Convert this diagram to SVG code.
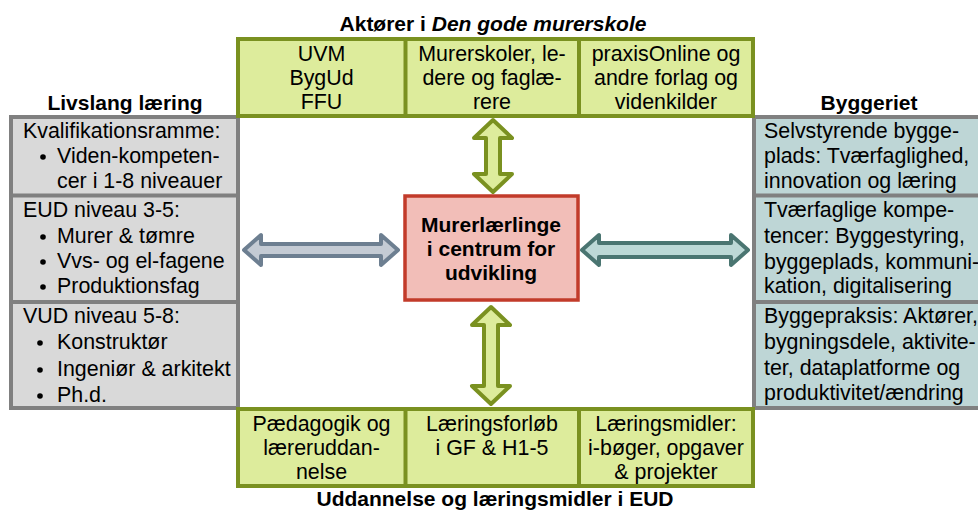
<svg xmlns="http://www.w3.org/2000/svg" width="978" height="511" viewBox="0 0 978 511">
  <style>
    text { font-family: "Liberation Sans", Arial, Helvetica, sans-serif; font-size: 21.4px; fill: #000; }
    .title { font-weight: bold; text-anchor: middle; font-size: 21px; }
    .c { text-anchor: middle; }
    .bold { font-weight: bold; font-size: 21px; }
    .green { fill: #DDEC9C; stroke: #7A9120; stroke-width: 4; }
    .gline { stroke: #7A9120; stroke-width: 4; fill: none; }
    .grey { fill: #D9D9D9; stroke: #808080; stroke-width: 4; }
    .teal { fill: #BED6D6; stroke: #808080; stroke-width: 4; }
    .pline { stroke: #808080; stroke-width: 4; fill: none; }
    .core { fill: #F2BEB8; stroke: #C23B2A; stroke-width: 3.5; }
    .dot { fill: #000; }
    .arr { stroke-width: 4; stroke-linejoin: round; }
    .arr-g { fill: #DDEC9C; stroke: #7A9120; }
    .arr-s { fill: #C4CBD4; stroke: #6D7F91; }
    .arr-t { fill: #BCD8D6; stroke: #4A7571; }
  </style>

  <!-- section headings -->
  <g id="headings">
    <text class="title" x="493" y="31">Aktører i <tspan font-style="italic">Den gode murerskole</tspan></text>
    <text class="title" x="125" y="110">Livslang læring</text>
    <text class="title" x="869" y="110">Byggeriet</text>
    <text class="title" x="495" y="506">Uddannelse og læringsmidler i EUD</text>
  </g>

  <!-- left column: lifelong learning -->
  <g id="lifelong">
    <rect class="grey" x="11" y="117" width="227" height="291"/>
    <line class="pline" x1="11" y1="195.5" x2="238" y2="195.5"/>
    <line class="pline" x1="11" y1="302" x2="238" y2="302"/>
    <g id="kvalifikation">
      <text x="23" y="138">Kvalifikationsramme:</text>
      <circle class="dot" cx="43" cy="157" r="2.8"/>
      <text x="57" y="163">Viden-kompeten-</text>
      <text x="57" y="188">cer i 1-8 niveauer</text>
    </g>
    <g id="eud">
      <text x="23" y="217">EUD niveau 3-5:</text>
      <circle class="dot" cx="43" cy="237" r="2.8"/>
      <text x="57" y="243">Murer &amp; tømre</text>
      <circle class="dot" cx="43" cy="262" r="2.8"/>
      <text x="57" y="268">Vvs- og el-fagene</text>
      <circle class="dot" cx="43" cy="287" r="2.8"/>
      <text x="57" y="293">Produktionsfag</text>
    </g>
    <g id="vud">
      <text x="23" y="323">VUD niveau 5-8:</text>
      <circle class="dot" cx="40" cy="343" r="2.8"/>
      <text x="57" y="349">Konstruktør</text>
      <circle class="dot" cx="40" cy="370" r="2.8"/>
      <text x="57" y="376">Ingeniør &amp; arkitekt</text>
      <circle class="dot" cx="40" cy="396" r="2.8"/>
      <text x="57" y="402">Ph.d.</text>
    </g>
  </g>

  <!-- right column: the construction sector -->
  <g id="byggeriet">
    <rect class="teal" x="754" y="117" width="232" height="291"/>
    <line class="pline" x1="754" y1="195.5" x2="986" y2="195.5"/>
    <line class="pline" x1="754" y1="302" x2="986" y2="302"/>
    <g id="selvstyrende">
      <text x="764" y="138">Selvstyrende bygge-</text>
      <text x="764" y="163">plads: Tværfaglighed,</text>
      <text x="764" y="188">innovation og læring</text>
    </g>
    <g id="tvaerfaglige">
      <text x="764" y="217">Tværfaglige kompe-</text>
      <text x="764" y="243">tencer: Byggestyring,</text>
      <text x="764" y="269">byggeplads, kommuni-</text>
      <text x="764" y="293">kation, digitalisering</text>
    </g>
    <g id="byggepraksis">
      <text x="764" y="323">Byggepraksis: Aktører,</text>
      <text x="764" y="349">bygningsdele, aktivite-</text>
      <text x="764" y="375">ter, dataplatforme og</text>
      <text x="764" y="400">produktivitet/ændring</text>
    </g>
  </g>

  <!-- top row: actors -->
  <g id="actors">
    <rect class="green" x="238" y="39" width="515" height="77"/>
    <line class="gline" x1="405.5" y1="39" x2="405.5" y2="116"/>
    <line class="gline" x1="579" y1="39" x2="579" y2="116"/>
    <g id="uvm">
      <text class="c" x="321.5" y="61">UVM</text>
      <text class="c" x="321.5" y="85">BygUd</text>
      <text class="c" x="321.5" y="109">FFU</text>
    </g>
    <g id="murerskoler">
      <text class="c" x="492" y="61">Murerskoler, le-</text>
      <text class="c" x="492" y="85">dere og faglæ-</text>
      <text class="c" x="492" y="109">rere</text>
    </g>
    <g id="praxis">
      <text class="c" x="666" y="61">praxisOnline og</text>
      <text class="c" x="666" y="85">andre forlag og</text>
      <text class="c" x="666" y="109">videnkilder</text>
    </g>
  </g>

  <!-- bottom row: education and learning materials -->
  <g id="education">
    <rect class="green" x="238" y="409" width="515" height="77"/>
    <line class="gline" x1="405.5" y1="409" x2="405.5" y2="486"/>
    <line class="gline" x1="579" y1="409" x2="579" y2="486"/>
    <g id="paedagogik">
      <text class="c" x="321.5" y="431">Pædagogik og</text>
      <text class="c" x="321.5" y="455">læreruddan-</text>
      <text class="c" x="321.5" y="479">nelse</text>
    </g>
    <g id="laeringsforloeb">
      <text class="c" x="492" y="431">Læringsforløb</text>
      <text class="c" x="492" y="455">i GF &amp; H1-5</text>
    </g>
    <g id="laeringsmidler">
      <text class="c" x="666" y="431">Læringsmidler:</text>
      <text class="c" x="666" y="455">i-bøger, opgaver</text>
      <text class="c" x="666" y="479">&amp; projekter</text>
    </g>
  </g>

  <!-- centre: the apprentice -->
  <g id="centre">
    <rect class="core" x="405" y="196" width="173" height="104"/>
    <text class="c bold" x="491" y="232">Murerlærlinge</text>
    <text class="c bold" x="491" y="256">i centrum for</text>
    <text class="c bold" x="491" y="280">udvikling</text>
  </g>

  <!-- double block arrows -->
  <g id="connectors">
    <path class="arr arr-g" d="M493,120 L512,138 L500,138 L500,174 L512,174 L493,192 L474,174 L486,174 L486,138 L474,138 Z"/>
    <path class="arr arr-g" d="M491,307 L510,325 L498,325 L498,386 L510,386 L491,404 L472,386 L484,386 L484,325 L472,325 Z"/>
    <path class="arr arr-s" d="M244,250 L261,235 L261,244 L381,244 L381,235 L398,250 L381,265 L381,256 L261,256 L261,265 Z"/>
    <path class="arr arr-t" d="M582,250 L599,235 L599,243 L731,243 L731,235 L748,250 L731,265 L731,257 L599,257 L599,265 Z"/>
  </g>
</svg>
